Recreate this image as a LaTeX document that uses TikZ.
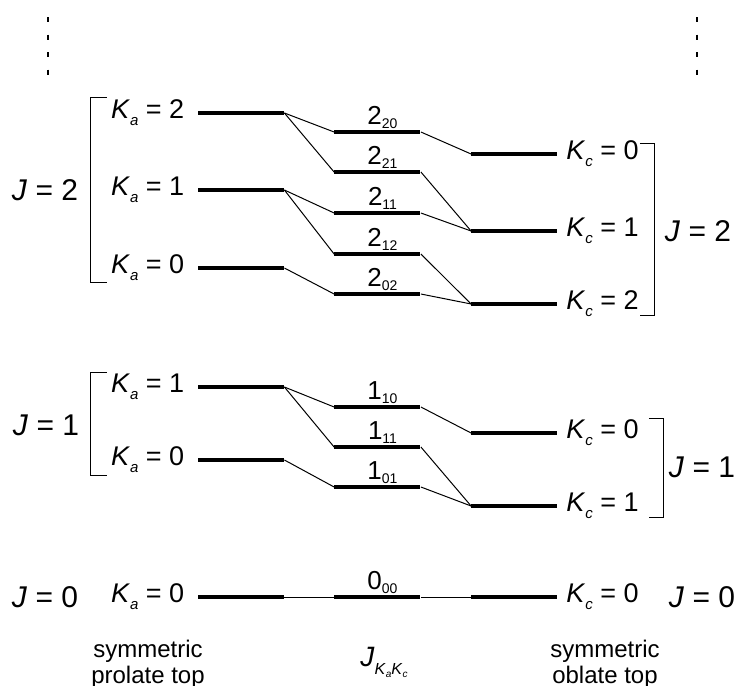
\documentclass[tikz,border=0pt]{standalone}
\usepackage{fontspec}
\setmainfont{Liberation Sans}
\usepackage{tikz}
\usetikzlibrary{positioning}
\usepackage{xcolor}

\newcommand{\Ka}{\textit{K}\raisebox{-3.5pt}{\fontsize{7.5}{8}\selectfont\textit{a}}}
\newcommand{\Kc}{\textit{K}\raisebox{-3.5pt}{\fontsize{7.5}{8}\selectfont\textit{c}}}
\newcommand{\lev}[2]{#1\raisebox{-2pt}{\fontsize{7}{8}\selectfont #2}}

\begin{document}
\begin{tikzpicture}[x=0.5pt, y=-0.5pt,
    level/.style={fill=black, inner sep=0pt, minimum height=1.7pt, minimum width=43pt},
    conn/.style={line width=0.5pt},
    lab/.style={inner sep=0pt, font=\fontsize{13.5}{16}\selectfont},
    jlab/.style={inner sep=0pt, font=\fontsize{15}{17}\selectfont},
    lvlab/.style={inner sep=0pt, xshift=2.5pt, font=\fontsize{13}{15}\selectfont},
    note/.style={inner sep=0pt, align=center, font=\fontsize{12}{13}\selectfont}]

        \useasboundingbox (0,0) rectangle (736,686);

        % Prolate top levels (left)
        \node[level] (p22) at (241,113) {};
        \node[level] (p21) at (241,190) {};
        \node[level] (p20) at (241,268) {};
        \node[level] (p11) at (241,387) {};
        \node[level] (p10) at (241,460) {};
        \node[level] (p00) at (241,597) {};

        % Asymmetric top levels (middle)
        \node[level] (a220) at (377.5,132) {};
        \node[level] (a221) at (377.5,172) {};
        \node[level] (a211) at (377.5,213) {};
        \node[level] (a212) at (377.5,254) {};
        \node[level] (a202) at (377.5,294) {};
        \node[level] (a110) at (377.5,407) {};
        \node[level] (a111) at (377.5,447) {};
        \node[level] (a101) at (377.5,487) {};
        \node[level] (a000) at (377.5,597) {};

        % Oblate top levels (right)
        \node[level] (o20) at (514.5,154) {};
        \node[level] (o21) at (514.5,231) {};
        \node[level] (o22) at (514.5,304) {};
        \node[level] (o10) at (514.5,433) {};
        \node[level] (o11) at (514.5,506) {};
        \node[level] (o00) at (514.5,597) {};

        % Level labels
        \node[lab, left=6.5pt of p22] (p22t) {\Ka{} = 2};
        \node[lab, left=6.5pt of p21] (p21t) {\Ka{} = 1};
        \node[lab, left=6.5pt of p20] (p20t) {\Ka{} = 0};
        \node[lab, left=6.5pt of p11] (p11t) {\Ka{} = 1};
        \node[lab, left=6.5pt of p10] (p10t) {\Ka{} = 0};
        \node[lab, left=6.5pt of p00] (p00t) {\Ka{} = 0};

        \node[lab, right=4pt of o20] (o20t) {\Kc{} = 0};
        \node[lab, right=4pt of o21] (o21t) {\Kc{} = 1};
        \node[lab, right=4pt of o22] (o22t) {\Kc{} = 2};
        \node[lab, right=4pt of o10] (o10t) {\Kc{} = 0};
        \node[lab, right=4pt of o11] (o11t) {\Kc{} = 1};
        \node[lab, right=4pt of o00] (o00t) {\Kc{} = 0};

        \node[lvlab, above=0.5pt of a220] (a220t) {\lev{2}{20}};
        \node[lvlab, above=0.5pt of a221] (a221t) {\lev{2}{21}};
        \node[lvlab, above=0.5pt of a211] (a211t) {\lev{2}{11}};
        \node[lvlab, above=0.5pt of a212] (a212t) {\lev{2}{12}};
        \node[lvlab, above=0.5pt of a202] (a202t) {\lev{2}{02}};
        \node[lvlab, above=0.5pt of a110] (a110t) {\lev{1}{10}};
        \node[lvlab, above=0.5pt of a111] (a111t) {\lev{1}{11}};
        \node[lvlab, above=0.5pt of a101] (a101t) {\lev{1}{01}};
        \node[lvlab, above=0.5pt of a000] (a000t) {\lev{0}{00}};

        % J labels
        \node[jlab] (jl2) at (45,190) {\textit{J} = 2};
        \node[jlab] (jl1) at (46,425) {\textit{J} = 1};
        \node[jlab] (jl0) at (45,597) {\textit{J} = 0};
        \node[jlab] (jr2) at (698,231) {\textit{J} = 2};
        \node[jlab] (jr1) at (702,467) {\textit{J} = 1};
        \node[jlab] (jr0) at (702,597) {\textit{J} = 0};

        % Brackets
        \draw[conn] (107,97) -- (91,97) -- (91,282) -- (107,282);
        \draw[conn] (107,372) -- (91,372) -- (91,475) -- (107,475);
        \draw[conn] (640,143) -- (655,143) -- (655,315) -- (640,315);
        \draw[conn] (649,418) -- (664,418) -- (664,517) -- (649,517);

        % Continuation dots
        \draw[line width=1.1pt, dash pattern=on 2.5pt off 6.25pt] (48,17) -- (48,76);
        \draw[line width=1.1pt, dash pattern=on 2.5pt off 6.25pt] (697,17) -- (697,76);

        % Correlation lines J = 2
        \draw[conn] (p22.east) -- (a220.west);
        \draw[conn] (p22.east) -- (a221.west);
        \draw[conn] (p21.east) -- (a211.west);
        \draw[conn] (p21.east) -- (a212.west);
        \draw[conn] (p20.east) -- (a202.west);
        \draw[conn] (a220.east) -- (o20.west);
        \draw[conn] (a221.east) -- (o21.west);
        \draw[conn] (a211.east) -- (o21.west);
        \draw[conn] (a212.east) -- (o22.west);
        \draw[conn] (a202.east) -- (o22.west);

        % Correlation lines J = 1
        \draw[conn] (p11.east) -- (a110.west);
        \draw[conn] (p11.east) -- (a111.west);
        \draw[conn] (p10.east) -- (a101.west);
        \draw[conn] (a110.east) -- (o10.west);
        \draw[conn] (a111.east) -- (o11.west);
        \draw[conn] (a101.east) -- (o11.west);

        % J = 0
        \draw[conn] (p00.east) -- (a000.west);
        \draw[conn] (a000.east) -- (o00.west);

        % Bottom captions
        \node[note] (prolate) at (148,664) {symmetric\\prolate top};
        \node[note] (oblate) at (605,664) {symmetric\\oblate top};
        \node[inner sep=0pt, font=\fontsize{14}{16}\selectfont] (jkk) at (384,662)
            {\textit{J}\raisebox{-4pt}{\fontsize{8}{9}\selectfont\textit{K}\raisebox{-1.5pt}{\fontsize{5}{6}\selectfont\textit{a}}\textit{K}\raisebox{-1.5pt}{\fontsize{5}{6}\selectfont\textit{c}}}};

    \end{tikzpicture}
\end{document}
